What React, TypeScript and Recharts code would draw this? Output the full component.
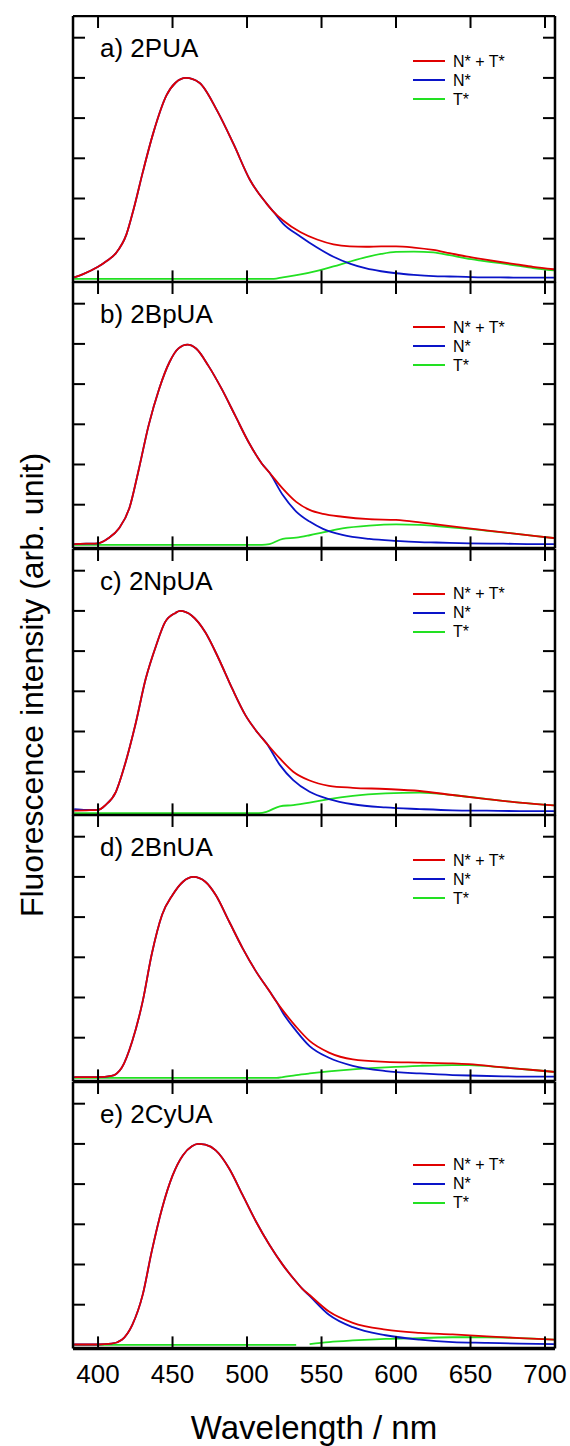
import { LineChart, Line, XAxis, YAxis } from 'recharts';

const wavelengthTicks = [400, 450, 500, 550, 600, 650, 700];
const intensityTicks = [1, 2, 3, 4, 5, 6];
const panelLabels = ['a) 2PUA', 'b) 2BpUA', 'c) 2NpUA', 'd) 2BnUA', 'e) 2CyUA'];
const seriesNames = ['N* + T*', 'N*', 'T*'];
const seriesColors = ['#e00000', '#0a14c8', '#22e022'];

// a) 2PUA
const waveA = [384, 390, 400, 406, 412, 419, 424, 430, 437, 446, 452, 459, 468, 480, 491, 502, 513, 518, 524, 536, 547, 558, 569, 580, 590, 600, 612, 625, 636, 647, 658, 670, 681, 692, 706];
const totalA = [0.04, 0.12, 0.3, 0.45, 0.64, 1.1, 1.75, 2.65, 3.62, 4.57, 4.88, 5.0, 4.88, 4.18, 3.35, 2.46, 1.88, 1.66, 1.46, 1.16, 0.98, 0.86, 0.81, 0.8, 0.81, 0.81, 0.78, 0.72, 0.64, 0.56, 0.49, 0.42, 0.36, 0.3, 0.24];
const nStarA = [0.04, 0.12, 0.3, 0.45, 0.64, 1.1, 1.75, 2.65, 3.62, 4.57, 4.88, 5.0, 4.88, 4.18, 3.35, 2.46, 1.88, 1.66, 1.38, 1.05, 0.78, 0.55, 0.38, 0.26, 0.19, 0.14, 0.1, 0.07, 0.06, 0.05, 0.04, 0.04, 0.03, 0.03, 0.03];
const tStarA = [0, 0, 0, 0, 0, 0, 0, 0, 0, 0, 0, 0, 0, 0, 0, 0, 0, 0, 0.04, 0.11, 0.2, 0.31, 0.43, 0.54, 0.62, 0.67, 0.68, 0.66, 0.59, 0.51, 0.45, 0.39, 0.33, 0.27, 0.21];

// b) 2BpUA
const waveB = [384, 392, 400, 407, 414, 421, 427, 434, 441, 448, 454, 460, 466, 474, 483, 492, 501, 510, 515, 524, 533, 542, 551, 564, 582, 600, 616, 627, 649, 672, 694, 706];
const totalB = [0.02, 0.03, 0.04, 0.17, 0.41, 0.91, 1.82, 2.98, 3.88, 4.55, 4.89, 4.98, 4.88, 4.46, 3.88, 3.22, 2.56, 2.02, 1.8, 1.4, 1.07, 0.87, 0.77, 0.7, 0.64, 0.62, 0.56, 0.51, 0.41, 0.31, 0.22, 0.17];
const nStarB = [0.02, 0.03, 0.04, 0.17, 0.41, 0.91, 1.82, 2.98, 3.88, 4.55, 4.89, 4.98, 4.88, 4.46, 3.88, 3.22, 2.56, 2.02, 1.8, 1.24, 0.83, 0.58, 0.4, 0.25, 0.15, 0.1, 0.07, 0.06, 0.04, 0.03, 0.02, 0.02];
const tStarB = [0, 0, 0, 0, 0, 0, 0, 0, 0, 0, 0, 0, 0, 0, 0, 0, 0, 0, 0.02, 0.15, 0.18, 0.24, 0.31, 0.41, 0.48, 0.51, 0.5, 0.47, 0.4, 0.31, 0.22, 0.17];

// c) 2NpUA
const waveC = [384, 392, 400, 405, 412, 418, 425, 432, 439, 445, 452, 455, 463, 472, 481, 490, 499, 508, 513, 522, 531, 542, 555, 571, 593, 616, 638, 661, 683, 706];
const totalC = [0.03, 0.04, 0.05, 0.17, 0.5, 1.17, 2.16, 3.31, 4.14, 4.72, 4.95, 5.0, 4.88, 4.47, 3.81, 3.07, 2.4, 1.93, 1.71, 1.33, 1.0, 0.78, 0.65, 0.6, 0.57, 0.52, 0.42, 0.32, 0.23, 0.16];
const nStarC = [0.07, 0.05, 0.05, 0.17, 0.5, 1.17, 2.16, 3.31, 4.14, 4.72, 4.95, 5.0, 4.88, 4.47, 3.81, 3.07, 2.4, 1.93, 1.71, 1.17, 0.79, 0.5, 0.32, 0.19, 0.11, 0.07, 0.04, 0.03, 0.02, 0.02];
const tStarC = [-0.03, -0.03, -0.03, -0.03, -0.03, -0.03, -0.03, -0.03, -0.03, -0.03, -0.03, -0.03, -0.03, -0.03, -0.03, -0.03, -0.03, -0.03, 0.0, 0.14, 0.17, 0.23, 0.32, 0.4, 0.46, 0.48, 0.42, 0.32, 0.23, 0.16];

// d) 2BnUA
const waveD = [384, 400, 409, 416, 423, 430, 436, 443, 450, 457, 464, 472, 479, 488, 497, 506, 515, 520, 524, 533, 542, 555, 571, 593, 616, 638, 649, 672, 694, 706];
const totalD = [0.02, 0.02, 0.05, 0.26, 0.92, 1.91, 3.07, 4.06, 4.55, 4.88, 5.0, 4.88, 4.55, 3.89, 3.23, 2.65, 2.16, 1.88, 1.68, 1.27, 0.92, 0.63, 0.46, 0.4, 0.38, 0.36, 0.34, 0.26, 0.19, 0.15];
const nStarD = [0.02, 0.02, 0.05, 0.26, 0.92, 1.91, 3.07, 4.06, 4.55, 4.88, 5.0, 4.88, 4.55, 3.89, 3.23, 2.65, 2.16, 1.88, 1.62, 1.17, 0.79, 0.5, 0.3, 0.17, 0.11, 0.07, 0.06, 0.04, 0.03, 0.03];
const tStarD = [0, 0, 0, 0, 0, 0, 0, 0, 0, 0, 0, 0, 0, 0, 0, 0, 0, 0, 0.02, 0.07, 0.11, 0.16, 0.21, 0.26, 0.3, 0.32, 0.32, 0.26, 0.19, 0.15];

// e) 2CyUA
const waveE = [384, 400, 409, 416, 423, 430, 436, 443, 450, 457, 463, 467, 472, 479, 488, 497, 506, 515, 524, 533, 537, 542, 555, 571, 593, 616, 638, 661, 683, 706];
const totalE = [0.01, 0.01, 0.03, 0.13, 0.5, 1.25, 2.32, 3.4, 4.21, 4.72, 4.94, 5.0, 4.98, 4.84, 4.39, 3.73, 3.07, 2.49, 1.99, 1.57, 1.4, 1.24, 0.83, 0.55, 0.38, 0.3, 0.26, 0.21, 0.17, 0.13];
const nStarE = [0.01, 0.01, 0.03, 0.13, 0.5, 1.25, 2.32, 3.4, 4.21, 4.72, 4.94, 5.0, 4.98, 4.84, 4.39, 3.73, 3.07, 2.49, 1.99, 1.57, 1.4, 1.22, 0.75, 0.44, 0.24, 0.13, 0.07, 0.05, 0.03, 0.02];
const tStarE = [0, 0, 0, 0, 0, 0, 0, 0, 0, 0, 0, 0, 0, 0, 0, 0, 0, 0, 0, 0, null, 0.02, 0.07, 0.11, 0.15, 0.17, 0.19, 0.19, 0.17, 0.13];

const panels = [
  { wave: waveA, total: totalA, nStar: nStarA, tStar: tStarA },
  { wave: waveB, total: totalB, nStar: nStarB, tStar: tStarB },
  { wave: waveC, total: totalC, nStar: nStarC, tStar: tStarC },
  { wave: waveD, total: totalD, nStar: nStarD, tStar: tStarD },
  { wave: waveE, total: totalE, nStar: nStarE, tStar: tStarE },
];

const FONT = 'Arial, "Liberation Sans", Helvetica, sans-serif';
const PLOT_TOP = 16;
const PANEL_H = 266.4;
const X_DOMAIN: [number, number] = [383.2, 706.7];
const Y_DOMAIN: [number, number] = [-0.087, 6.54];
const AXIS_LINE = { stroke: '#000', strokeWidth: 2.5 };
const TICK_LINE = { stroke: '#000', strokeWidth: 2 };
const blank = () => '';

function PanelLegend({ top }: { top: number }) {
  return (
    <div style={{ position: 'absolute', left: 413, top, fontFamily: FONT, fontSize: 16, color: '#000' }}>
      {seriesNames.map((name, i) => (
        <div key={name} style={{ display: 'flex', alignItems: 'center', height: 19 }}>
          <div style={{ width: 32, height: 2, background: seriesColors[i], marginRight: 8 }} />
          <span style={{ lineHeight: '19px' }}>{name}</span>
        </div>
      ))}
    </div>
  );
}

function Panel({ index }: { index: number }) {
  const p = panels[index];
  const isLast = index === panels.length - 1;
  const rows = p.wave.map((w, i) => ({ w, total: p.total[i], nStar: p.nStar[i], tStar: p.tStar[i] }));
  // 1px top axis + plot + bottom axis (1px, or 60px with labels on the last panel)
  const bottomH = isLast ? 60 : 1;
  const chartH = PANEL_H + 1 + bottomH;
  return (
    <div style={{ position: 'absolute', left: 0, top: PLOT_TOP + index * PANEL_H - 1, width: 570, height: chartH }}>
      <LineChart width={570} height={chartH} data={rows} margin={{ top: 0, right: 14, bottom: 0, left: 72 }}>
        <XAxis
          dataKey="w"
          type="number"
          domain={X_DOMAIN}
          allowDataOverflow
          ticks={wavelengthTicks}
          interval={0}
          height={bottomH}
          tickSize={-12}
          tickMargin={28}
          axisLine={{ stroke: '#000', strokeWidth: 3.5 }}
          tickLine={TICK_LINE}
          tickFormatter={isLast ? undefined : blank}
          tick={{ fill: '#000', fontSize: 26, fontFamily: FONT }}
        />
        <XAxis
          xAxisId="top"
          orientation="top"
          dataKey="w"
          type="number"
          domain={X_DOMAIN}
          allowDataOverflow
          ticks={wavelengthTicks}
          interval={0}
          height={1}
          tickSize={-12}
          axisLine={AXIS_LINE}
          tickLine={TICK_LINE}
          tickFormatter={blank}
        />
        <YAxis
          type="number"
          domain={Y_DOMAIN}
          allowDataOverflow
          ticks={intensityTicks}
          interval={0}
          width={1}
          tickSize={-12}
          axisLine={AXIS_LINE}
          tickLine={TICK_LINE}
          tickFormatter={blank}
        />
        <YAxis
          yAxisId="right"
          orientation="right"
          type="number"
          domain={Y_DOMAIN}
          allowDataOverflow
          ticks={intensityTicks}
          interval={0}
          width={1}
          tickSize={-12}
          axisLine={AXIS_LINE}
          tickLine={TICK_LINE}
          tickFormatter={blank}
        />
        <Line dataKey="tStar" name={seriesNames[2]} type="monotone" stroke={seriesColors[2]} strokeWidth={1.8} dot={false} isAnimationActive={false} />
        <Line dataKey="nStar" name={seriesNames[1]} type="monotone" stroke={seriesColors[1]} strokeWidth={1.8} dot={false} isAnimationActive={false} />
        <Line dataKey="total" name={seriesNames[0]} type="monotone" stroke={seriesColors[0]} strokeWidth={1.8} dot={false} isAnimationActive={false} />
      </LineChart>
      <div style={{ position: 'absolute', left: 100, top: 20, fontFamily: FONT, fontSize: 26, lineHeight: 1, whiteSpace: 'nowrap' }}>
        {panelLabels[index]}
      </div>
      <PanelLegend top={isLast ? 74.5 : 36.5} />
    </div>
  );
}

export default function App() {
  return (
    <div style={{ position: 'absolute', left: 0, top: 0, width: 570, height: 1446, background: '#fff', overflow: 'hidden' }}>
      {panels.map((_, i) => (
        <Panel key={i} index={i} />
      ))}
      <div
        style={{
          position: 'absolute',
          left: 32,
          top: 685,
          transform: 'translate(-50%, -50%) rotate(-90deg)',
          fontFamily: FONT,
          fontSize: 32,
          lineHeight: 1,
          whiteSpace: 'nowrap',
        }}
      >
        Fluorescence intensity (arb. unit)
      </div>
      <div
        style={{
          position: 'absolute',
          left: 314,
          top: 1411,
          transform: 'translateX(-50%)',
          fontFamily: FONT,
          fontSize: 33,
          lineHeight: 1,
          whiteSpace: 'nowrap',
        }}
      >
        Wavelength / nm
      </div>
    </div>
  );
}
